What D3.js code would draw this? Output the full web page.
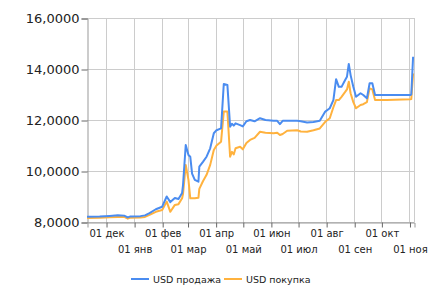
<!DOCTYPE html>
<html>
<head>
<meta charset="utf-8">
<script src="https://cdn.jsdelivr.net/npm/d3@7"></script>
<style>
    body { margin: 0; background: #fff; }
    svg { display: block; font-family: "DejaVu Sans", Verdana, sans-serif; }
</style>
</head>
<body>
<svg id="chart" width="440" height="300"></svg>
<script>
    // -- ДАННЫЕ --
    const dates = [
        "2013-11-10", "2013-11-24", "2013-12-05", "2013-12-14", "2013-12-21", "2013-12-25", "2013-12-28",
        "2014-01-08", "2014-01-13", "2014-01-18", "2014-01-25", "2014-02-01", "2014-02-06", "2014-02-10",
        "2014-02-15", "2014-02-19", "2014-02-23", "2014-02-24", "2014-02-27", "2014-03-02", "2014-03-04",
        "2014-03-06", "2014-03-09", "2014-03-13", "2014-03-14", "2014-03-18", "2014-03-22", "2014-03-26",
        "2014-03-30", "2014-04-02", "2014-04-07", "2014-04-10", "2014-04-14", "2014-04-17", "2014-04-19",
        "2014-04-21", "2014-04-23", "2014-04-28", "2014-05-01", "2014-05-05", "2014-05-09", "2014-05-14",
        "2014-05-20", "2014-05-26", "2014-06-04", "2014-06-08", "2014-06-11", "2014-06-14", "2014-06-19",
        "2014-06-30", "2014-07-04", "2014-07-11", "2014-07-18", "2014-07-25", "2014-07-31", "2014-08-05",
        "2014-08-09", "2014-08-12", "2014-08-15", "2014-08-18", "2014-08-22", "2014-08-24", "2014-08-26",
        "2014-08-28", "2014-08-31", "2014-09-03", "2014-09-08", "2014-09-11", "2014-09-15", "2014-09-18",
        "2014-09-21", "2014-09-24", "2014-10-07", "2014-11-02", "2014-11-03", "2014-11-05"
    ];
    const sell = [
        8.21, 8.22, 8.24, 8.26, 8.25, 8.18, 8.22,
        8.23, 8.26, 8.35, 8.50, 8.60, 9.00, 8.78,
        8.94, 8.90, 9.14, 9.45, 11.02, 10.63, 10.56,
        9.90, 9.65, 9.58, 10.17, 10.36, 10.56, 10.89,
        11.48, 11.60, 11.67, 13.41, 13.37, 11.74, 11.85,
        11.78, 11.87, 11.80, 11.75, 11.95, 12.00, 11.95,
        12.07, 12.00, 11.97, 11.97, 11.84, 11.97, 11.97,
        11.97, 11.95, 11.90, 11.92, 11.97, 12.33, 12.46,
        12.78, 13.60, 13.30, 13.30, 13.57, 13.70, 14.20,
        13.76, 13.30, 12.91, 13.05, 12.98, 12.85, 13.44,
        13.44, 12.98, 12.98, 12.98, 13.00, 14.48
    ];
    const buy = [
        8.16, 8.17, 8.19, 8.20, 8.20, 8.13, 8.17,
        8.18, 8.20, 8.28, 8.40, 8.47, 8.80, 8.40,
        8.67, 8.70, 8.93, 9.10, 10.24, 9.65, 8.93,
        8.93, 8.93, 8.95, 9.30, 9.60, 9.85, 10.24,
        10.82, 11.00, 11.15, 12.33, 12.33, 10.56, 10.75,
        10.65, 10.89, 10.95, 10.85, 11.10, 11.22, 11.30,
        11.54, 11.50, 11.48, 11.50, 11.41, 11.45, 11.58,
        11.60, 11.55, 11.54, 11.60, 11.67, 11.93, 12.07,
        12.50, 12.78, 12.78, 12.91, 13.10, 13.20, 13.50,
        13.05, 12.70, 12.46, 12.59, 12.62, 12.70, 13.24,
        13.20, 12.78, 12.78, 12.81, 12.82, 13.83
    ];
    const yTicks = [8, 10, 12, 14, 16];
    const monthNames = ["янв", "фев", "мар", "апр", "май", "июн", "июл", "авг", "сен", "окт", "ноя", "дек"];
    const seriesNames = ["USD продажа", "USD покупка"];
    const colors = ["#4a8cf0", "#ffb23e"];

    // -- РАЗМЕТКА --
    const mLeft = 87, mRight = 414, mTop = 18, mBottom = 222;
    const parse = d3.timeParse("%Y-%m-%d");
    const x = d3.scaleTime()
        .domain([parse("2013-11-10"), parse("2014-11-06")])
        .range([mLeft, mRight]);
    const y = d3.scaleLinear().domain([8, 16]).range([mBottom, mTop]);

    const svg = d3.select("#chart");
    const months = d3.timeMonth.range(parse("2013-12-01"), parse("2014-11-06"));

    // сетка
    svg.append("g")
        .selectAll("line")
        .data(months)
        .enter().append("line")
        .attr("x1", d => Math.round(x(d)) + 0.5).attr("x2", d => Math.round(x(d)) + 0.5)
        .attr("y1", mTop).attr("y2", mBottom)
        .attr("stroke", "#cccccc");

    svg.append("g")
        .selectAll("line")
        .data(yTicks)
        .enter().append("line")
        .attr("x1", mLeft).attr("x2", mRight)
        .attr("y1", d => Math.round(y(d)) + 0.5).attr("y2", d => Math.round(y(d)) + 0.5)
        .attr("stroke", "#cccccc");

    svg.append("line")
        .attr("x1", mRight + 0.5).attr("x2", mRight + 0.5)
        .attr("y1", mTop).attr("y2", mBottom)
        .attr("stroke", "#cccccc");

    // оси
    const yAxis = svg.append("g")
        .attr("transform", "translate(" + (mLeft + 0.5) + ",0.5)")
        .call(d3.axisLeft(y).tickValues(yTicks).tickSize(6).tickPadding(2)
            .tickFormat(d => d3.format(",")(d) + ",0000"));
    const xAxis = svg.append("g")
        .attr("transform", "translate(0.5," + (mBottom + 0.5) + ")")
        .call(d3.axisBottom(x).tickValues(months).tickSize(5).tickFormat(""));

    [yAxis, xAxis].forEach(a => {
        a.select(".domain").attr("stroke", "#999999");
        a.selectAll(".tick line").attr("stroke", "#666666");
    });
    yAxis.selectAll("text")
        .attr("font-size", 13)
        .attr("fill", "#222")
        .attr("font-family", "DejaVu Sans, Verdana, sans-serif");

    // подписи месяцев в два ряда
    svg.append("g")
        .selectAll("text")
        .data(months)
        .enter().append("text")
        .attr("x", d => x(d) + 1)
        .attr("y", (d, i) => i % 2 === 0 ? 237 : 253)
        .attr("text-anchor", "middle")
        .attr("font-size", 10)
        .attr("fill", "#222")
        .text(d => "01 " + monthNames[d.getMonth()]);

    // линии
    const line = d3.line()
        .x((d, i) => x(parse(dates[i])))
        .y(d => y(d));

    const paths = [sell, buy].map((s, k) => svg.append("path")
        .datum(s)
        .attr("fill", "none")
        .attr("stroke", colors[k])
        .attr("stroke-width", 2)
        .attr("stroke-linejoin", "round")
        .attr("d", line));
    // продажа поверх покупки
    paths[0].raise();

    // легенда
    const legend = svg.append("g")
        .selectAll("g")
        .data(seriesNames)
        .enter().append("g")
        .attr("transform", (d, i) => "translate(" + (131 + i * 93) + ",279)");
    legend.append("line")
        .attr("x1", 0).attr("x2", 18)
        .attr("stroke", (d, i) => colors[i])
        .attr("stroke-width", 2);
    legend.append("text")
        .attr("x", 22).attr("y", 4)
        .attr("font-size", 9.5)
        .attr("fill", "#222")
        .text(d => d);
</script>
</body>
</html>
